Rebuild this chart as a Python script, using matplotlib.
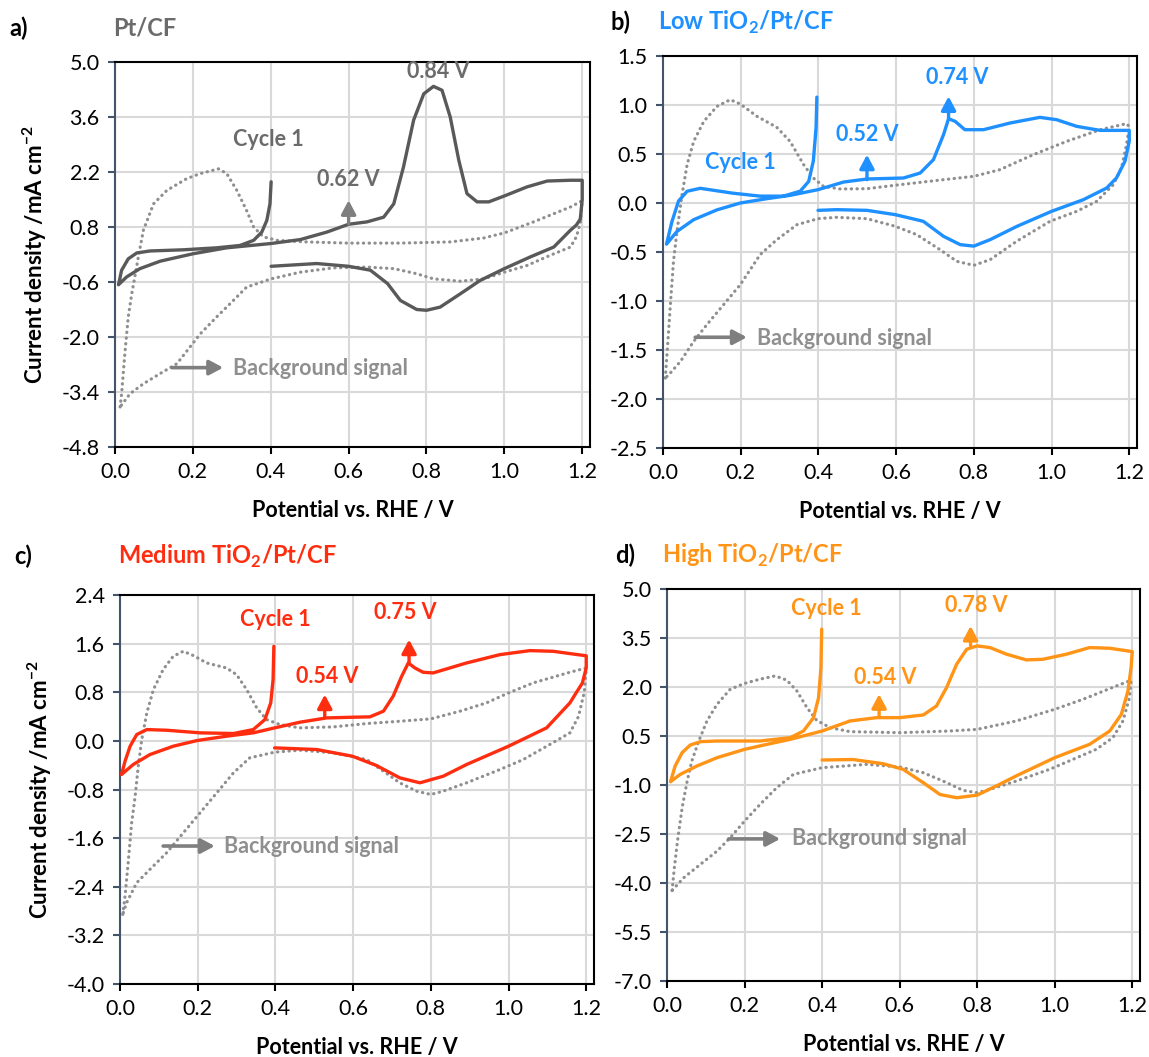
import numpy as np
import matplotlib
matplotlib.use('Agg')
import matplotlib.pyplot as plt

plt.rcParams['font.family'] = ['Lato', 'DejaVu Sans']
plt.rcParams['mathtext.fontset'] = 'custom'
plt.rcParams['mathtext.rm'] = 'Lato'
plt.rcParams['mathtext.bf'] = 'Lato:bold'

# ---- data (potential V vs RHE, current density mA cm-2) ----
a_cv_v = [0.401, 0.398, 0.39, 0.377, 0.356, 0.321, 0.261, 0.176, 0.09, 0.056, 0.034, 0.017, 0.009,
          0.03, 0.064, 0.116, 0.201, 0.287, 0.401, 0.476, 0.544, 0.60, 0.647, 0.69, 0.716, 0.741, 0.767,
          0.793, 0.818, 0.84, 0.861, 0.883, 0.904, 0.93, 0.96, 1.0, 1.058, 1.11, 1.17, 1.2,
          1.2, 1.195, 1.185, 1.17, 1.127, 1.067, 1.0, 0.938, 0.887, 0.835, 0.80, 0.775, 0.733, 0.70,
          0.656, 0.60, 0.518, 0.401]
a_cv_j = [1.95, 1.39, 0.97, 0.67, 0.46, 0.33, 0.27, 0.22, 0.19, 0.14, -0.01, -0.30, -0.67,
          -0.47, -0.26, -0.07, 0.12, 0.27, 0.38, 0.48, 0.67, 0.87, 0.93, 1.05, 1.39, 2.33, 3.52,
          4.19, 4.38, 4.28, 3.60, 2.50, 1.65, 1.44, 1.44, 1.59, 1.82, 1.97, 1.99, 1.99,
          1.5, 1.0, 0.85, 0.72, 0.29, 0.04, -0.26, -0.56, -0.90, -1.24, -1.32, -1.30, -1.07, -0.64,
          -0.30, -0.20, -0.13, -0.20]
a_bg_v = [0.013, 0.017, 0.026, 0.034, 0.043, 0.051, 0.06, 0.073, 0.099, 0.133, 0.184, 0.219, 0.266,
          0.287, 0.313, 0.338, 0.356, 0.381, 0.416, 0.493, 0.60, 0.733, 0.861, 0.947, 1.0, 1.075, 1.17,
          1.2, 1.195, 1.185, 1.17, 1.118, 1.058, 1.0, 0.947, 0.887, 0.818, 0.775, 0.716, 0.647, 0.561,
          0.476, 0.401, 0.338, 0.304, 0.261, 0.219, 0.193, 0.159, 0.116, 0.073, 0.039, 0.013]
a_bg_j = [-3.78, -3.44, -2.34, -1.49, -0.90, -0.47, 0.04, 0.72, 1.39, 1.73, 2.03, 2.16, 2.28,
          2.16, 1.73, 1.22, 0.80, 0.55, 0.46, 0.42, 0.39, 0.39, 0.42, 0.52, 0.65, 0.93, 1.31,
          1.47, 0.9, 0.55, 0.29, 0.08, -0.18, -0.35, -0.52, -0.58, -0.52, -0.39, -0.26, -0.22, -0.24,
          -0.35, -0.52, -0.73, -1.07, -1.49, -1.92, -2.25, -2.68, -2.93, -3.19, -3.44, -3.78]

b_cv_v = [0.396, 0.394, 0.387, 0.375, 0.353, 0.31, 0.25, 0.18, 0.096, 0.062, 0.04, 0.023, 0.009,
          0.036, 0.079, 0.139, 0.199, 0.267, 0.327, 0.399, 0.465, 0.525, 0.619, 0.662, 0.696, 0.722,
          0.735, 0.752, 0.777, 0.825, 0.893, 0.97, 1.013, 1.065, 1.125, 1.20,
          1.2, 1.189, 1.167, 1.142, 1.082, 1.0, 0.91, 0.842, 0.80, 0.765, 0.722, 0.67, 0.598, 0.525,
          0.447, 0.399]
b_cv_j = [1.08, 0.77, 0.43, 0.22, 0.12, 0.07, 0.07, 0.10, 0.15, 0.12, 0.02, -0.19, -0.42,
          -0.29, -0.17, -0.07, 0.0, 0.044, 0.078, 0.136, 0.214, 0.245, 0.255, 0.306, 0.442, 0.697,
          0.86, 0.833, 0.748, 0.748, 0.816, 0.874, 0.85, 0.782, 0.741, 0.741,
          0.63, 0.425, 0.255, 0.153, 0.034, -0.085, -0.24, -0.374, -0.44, -0.425, -0.34, -0.187, -0.119,
          -0.075, -0.068, -0.075]
b_bg_v = [0.006, 0.012, 0.019, 0.027, 0.036, 0.049, 0.062, 0.079, 0.105, 0.139, 0.173, 0.199, 0.242,
          0.293, 0.327, 0.362, 0.387, 0.413, 0.456, 0.525, 0.61, 0.722, 0.80, 0.867, 0.953, 1.039,
          1.125, 1.193, 1.2, 1.193, 1.18, 1.159, 1.116, 1.065, 0.996, 0.91, 0.842, 0.80, 0.756, 0.713,
          0.653, 0.598, 0.525, 0.447, 0.399, 0.345, 0.293, 0.25, 0.199, 0.156, 0.113, 0.079, 0.045,
          0.015, 0.006]
b_bg_j = [-1.786, -1.446, -1.037, -0.595, -0.289, 0.085, 0.391, 0.629, 0.833, 0.986, 1.054, 1.01, 0.884,
          0.772, 0.629, 0.391, 0.255, 0.17, 0.143, 0.146, 0.187, 0.238, 0.272, 0.34, 0.493, 0.629,
          0.748, 0.81, 0.78, 0.595, 0.357, 0.187, 0.017, -0.085, -0.187, -0.391, -0.578, -0.636, -0.595,
          -0.476, -0.323, -0.238, -0.16, -0.146, -0.16, -0.221, -0.374, -0.527, -0.833, -1.037, -1.241,
          -1.412, -1.616, -1.752, -1.786]

c_cv_v = [0.396, 0.394, 0.388, 0.373, 0.343, 0.292, 0.206, 0.12, 0.069, 0.043, 0.026, 0.013, 0.004,
          0.034, 0.077, 0.137, 0.198, 0.274, 0.343, 0.398, 0.463, 0.532, 0.598, 0.643, 0.678, 0.703,
          0.725, 0.742, 0.759, 0.78, 0.806, 0.892, 0.978, 1.055, 1.115, 1.158, 1.2,
          1.2, 1.19, 1.175, 1.158, 1.098, 1.0, 0.892, 0.832, 0.772, 0.72, 0.66, 0.598, 0.506, 0.398]
c_cv_j = [1.556, 1.008, 0.625, 0.351, 0.186, 0.121, 0.132, 0.175, 0.186, 0.104, -0.088, -0.334, -0.553,
          -0.389, -0.225, -0.088, 0.005, 0.077, 0.132, 0.214, 0.307, 0.378, 0.389, 0.395, 0.488, 0.734,
          1.063, 1.282, 1.20, 1.129, 1.118, 1.282, 1.419, 1.485, 1.474, 1.436, 1.40,
          1.2, 0.95, 0.8, 0.625, 0.214, -0.088, -0.389, -0.581, -0.69, -0.608, -0.405, -0.252, -0.142,
          -0.115]
c_bg_v = [0.007, 0.013, 0.021, 0.03, 0.039, 0.047, 0.056, 0.069, 0.086, 0.111, 0.137, 0.163, 0.189,
          0.223, 0.274, 0.30, 0.326, 0.352, 0.377, 0.412, 0.463, 0.549, 0.635, 0.72, 0.80, 0.875, 0.943,
          1.0, 1.063, 1.158, 1.2, 1.195, 1.18, 1.158, 1.106, 1.038, 0.978, 0.892, 0.832, 0.80, 0.763,
          0.72, 0.678, 0.635, 0.549, 0.463, 0.398, 0.334, 0.292, 0.249, 0.206, 0.163, 0.12, 0.077, 0.043,
          0.017, 0.007]
c_bg_j = [-2.855, -2.553, -2.005, -1.348, -0.91, -0.416, 0.022, 0.46, 0.844, 1.173, 1.392, 1.474, 1.403,
          1.282, 1.20, 1.09, 0.844, 0.542, 0.351, 0.268, 0.214, 0.23, 0.285, 0.323, 0.362, 0.488, 0.625,
          0.789, 0.953, 1.129, 1.2, 0.8, 0.4, 0.132, -0.06, -0.307, -0.471, -0.69, -0.827, -0.882, -0.827,
          -0.69, -0.499, -0.307, -0.197, -0.153, -0.186, -0.279, -0.526, -0.855, -1.184, -1.512, -1.841,
          -2.115, -2.334, -2.663, -2.855]

d_cv_v = [0.399, 0.397, 0.391, 0.378, 0.352, 0.318, 0.24, 0.129, 0.086, 0.06, 0.039, 0.021, 0.009,
          0.034, 0.077, 0.129, 0.20, 0.258, 0.318, 0.40, 0.472, 0.541, 0.601, 0.661, 0.695, 0.721,
          0.747, 0.773, 0.80, 0.833, 0.876, 0.927, 0.97, 1.03, 1.09, 1.142, 1.20,
          1.197, 1.189, 1.172, 1.142, 1.09, 1.0, 0.901, 0.858, 0.80, 0.747, 0.704, 0.661, 0.609, 0.558,
          0.48, 0.40]
d_cv_j = [3.77, 2.59, 1.675, 1.06, 0.653, 0.449, 0.347, 0.347, 0.326, 0.224, -0.01, -0.42, -0.90,
          -0.675, -0.42, -0.164, 0.091, 0.245, 0.398, 0.653, 0.96, 1.062, 1.062, 1.144, 1.419, 1.98,
          2.696, 3.156, 3.258, 3.207, 3.003, 2.829, 2.849, 3.003, 3.207, 3.186, 3.084,
          2.594, 1.879, 1.164, 0.653, 0.245, -0.164, -0.72, -0.98, -1.31, -1.39, -1.29, -0.93, -0.52,
          -0.35, -0.22, -0.235]
d_bg_v = [0.013, 0.019, 0.027, 0.039, 0.052, 0.064, 0.082, 0.103, 0.129, 0.163, 0.20, 0.24, 0.279,
          0.309, 0.335, 0.361, 0.386, 0.421, 0.472, 0.601, 0.73, 0.80, 0.901, 1.0, 1.073, 1.159, 1.197,
          1.193, 1.176, 1.15, 1.107, 1.047, 0.987, 0.901, 0.833, 0.80, 0.764, 0.712, 0.661, 0.601, 0.515,
          0.40, 0.326, 0.283, 0.24, 0.20, 0.163, 0.129, 0.086, 0.043, 0.013]
d_bg_j = [-4.23, -3.53, -2.72, -1.70, -0.88, -0.266, 0.347, 0.96, 1.47, 1.93, 2.11, 2.24, 2.34,
          2.21, 1.879, 1.368, 0.98, 0.755, 0.633, 0.602, 0.653, 0.704, 0.96, 1.317, 1.624, 2.032, 2.206,
          1.675, 0.96, 0.449, 0.091, -0.215, -0.52, -0.879, -1.134, -1.236, -1.165, -0.879, -0.624, -0.45,
          -0.368, -0.47, -0.675, -1.083, -1.594, -2.105, -2.615, -3.024, -3.43, -3.84, -4.23]

panel_letters = ['a)', 'b)', 'c)', 'd)']
panel_titles = ['Pt/CF', r'Low TiO$_\mathbf{2}$/Pt/CF', r'Medium TiO$_\mathbf{2}$/Pt/CF',
                r'High TiO$_\mathbf{2}$/Pt/CF']
peak_labels = [('0.62 V', '0.84 V'), ('0.52 V', '0.74 V'), ('0.54 V', '0.75 V'), ('0.54 V', '0.78 V')]
y_ticks = [np.round(np.arange(-4.8, 5.01, 1.4), 1),
           np.round(np.arange(-2.5, 1.51, 0.5), 1),
           np.round(np.arange(-4.0, 2.41, 0.8), 1),
           np.round(np.arange(-7.0, 5.01, 1.5), 1)]
x_ticks = [0.0, 0.2, 0.4, 0.6, 0.8, 1.0, 1.2]

# ---- layout / style ----
W, H = 1149, 1057
boxes = [(115, 590, 62, 447), (663, 1137, 56, 448), (120, 594, 595, 984), (667, 1140, 589, 981)]
colors = ['#595959', '#1e90ff', '#ff2d10', '#ff9416']
text_colors = ['#6b6b6b', '#1e90ff', '#ff2d10', '#ff9416']
arrow_colors = ['#7f7f7f', '#1e90ff', '#ff2d10', '#ff9416']
bg_color = '#8f8f8f'
# annotation positions (data coords)
cycle_pos = [(0.394, 3.02), (0.199, 0.418), (0.399, 1.995), (0.41, 4.41)]
p1_text = [(0.60, 2.0), (0.525, 0.70), (0.532, 1.052), (0.562, 2.29)]
p1_arrow = [(0.60, 0.88, 1.48), (0.525, 0.238, 0.493), (0.527, 0.395, 0.762), (0.547, 1.08, 1.78)]
p2_text = [(0.83, 4.77), (0.756, 1.276), (0.733, 2.104), (0.797, 4.48)]
p2_arrow = [None, (0.735, 0.86, 1.088), (0.744, 1.28, 1.666), (0.783, 3.26, 3.87)]
bg_text = [(0.304, -2.81), (0.242, -1.378), (0.268, -1.73), (0.322, -2.65)]
bg_arrow = [(0.146, 0.278, -2.78), (0.083, 0.216, -1.37), (0.111, 0.244, -1.73), (0.159, 0.292, -2.65)]

data = [(a_cv_v, a_cv_j, a_bg_v, a_bg_j), (b_cv_v, b_cv_j, b_bg_v, b_bg_j),
        (c_cv_v, c_cv_j, c_bg_v, c_bg_j), (d_cv_v, d_cv_j, d_bg_v, d_bg_j)]


def up_arrow(ax, x, y0, y1, color):
    ax.annotate('', xy=(x, y1), xytext=(x, y0),
                arrowprops=dict(arrowstyle='-|>,head_width=0.4,head_length=0.75',
                                mutation_scale=11, color=color, lw=2.4,
                                shrinkA=0, shrinkB=0), zorder=5)


fig = plt.figure(figsize=(W / 100, H / 100), dpi=100)

for i in range(4):
    l, r, t, b = boxes[i]
    ax = fig.add_axes([l / W, 1 - b / H, (r - l) / W, (b - t) / H])
    cv_v, cv_j, bg_v, bg_j = data[i]
    ax.plot(bg_v, bg_j, color=bg_color, lw=2.3, linestyle=(0, (0.1, 1.7)),
            dash_capstyle='round', zorder=2)
    ax.plot(cv_v, cv_j, color=colors[i], lw=2.4, solid_joinstyle='round',
            solid_capstyle='round', zorder=3)

    ax.set_xlim(0, 1.22)
    ax.set_ylim(y_ticks[i][0], y_ticks[i][-1])
    ax.set_xticks(x_ticks)
    ax.set_xticklabels([f'{v:.1f}' for v in x_ticks])
    ax.set_yticks(y_ticks[i])
    ax.set_yticklabels([f'{v + 0.0:.1f}' for v in y_ticks[i]])
    ax.tick_params(labelsize=15.5, length=5, width=1.5, pad=6, direction='out')
    ax.grid(True, color='#d9d9d9', lw=1.5, zorder=0)
    ax.set_axisbelow(True)
    for s in ['top', 'right', 'bottom']:
        ax.spines[s].set_color('black')
        ax.spines[s].set_linewidth(1.5)
    ax.spines['left'].set_color('#44546a')
    ax.spines['left'].set_linewidth(1.5)
    ax.tick_params(axis='y', color='#44546a')

    ax.set_xlabel('Potential vs. RHE / V', fontsize=15.5, fontweight='bold', labelpad=13)
    if i in (0, 2):
        ax.set_ylabel('Current density /mA cm$^{\\mathbf{-2}}$', fontsize=16, fontweight='bold')
        ax.yaxis.set_label_coords(-0.14, 0.5)

    # panel letters and titles
    ty = t - 34 if i != 2 else t - 39
    fig.text((l - 106) / W if i in (0, 2) else (l - 52) / W, 1 - ty / H,
             panel_letters[i], fontsize=17, fontweight='bold', ha='left', va='center')
    fig.text((l - 2) / W if i in (0, 2) else (l - 5) / W, 1 - ty / H,
             panel_titles[i], fontsize=17, fontweight='bold', color=text_colors[i],
             ha='left', va='center')

    tc = text_colors[i]
    ax.text(*cycle_pos[i], 'Cycle 1', color=tc, fontsize=15.5, fontweight='bold',
            ha='center', va='center', zorder=5)
    ax.text(*p1_text[i], peak_labels[i][0], color=tc, fontsize=15.5, fontweight='bold',
            ha='center', va='center', zorder=5)
    ax.text(*p2_text[i], peak_labels[i][1], color=tc, fontsize=15.5, fontweight='bold',
            ha='center', va='center', zorder=5)
    up_arrow(ax, *p1_arrow[i], arrow_colors[i])
    if p2_arrow[i] is not None:
        up_arrow(ax, *p2_arrow[i], arrow_colors[i])
    ax.text(*bg_text[i], 'Background signal', color=bg_color, fontsize=15.5, fontweight='bold',
            ha='left', va='center', zorder=5)
    xa, xb, ya = bg_arrow[i]
    ax.annotate('', xy=(xb, ya), xytext=(xa, ya),
                arrowprops=dict(arrowstyle='-|>,head_width=0.4,head_length=0.75',
                                mutation_scale=11, color='#7f7f7f', lw=2.6,
                                shrinkA=0, shrinkB=0), zorder=5)

fig.savefig('out.png', dpi=100)
